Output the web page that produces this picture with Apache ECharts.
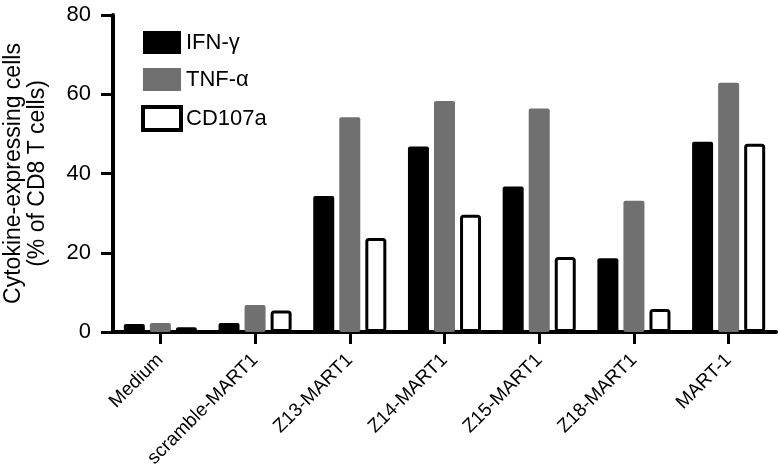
<!DOCTYPE html>
<html>
<head>
<meta charset="utf-8">
<script src="https://cdn.jsdelivr.net/npm/echarts@6/dist/echarts.min.js"></script>
<style>
  html, body { margin: 0; padding: 0; background: #fff; }
  #main { width: 780px; height: 471px; }
</style>
</head>
<body>
<div id="main"></div>
<script>
// categories and values
var categories = ['Medium', 'scramble-MART1', 'Z13-MART1', 'Z14-MART1', 'Z15-MART1', 'Z18-MART1', 'MART-1'];
var ifnGamma = [2.0, 2.3, 34.3, 46.8, 36.7, 18.6, 48.0];
var tnfAlpha = [2.3, 6.8, 54.2, 58.3, 56.4, 33.1, 62.9];
var cd107a   = [1.2, 5.4, 23.7, 29.6, 18.9, 5.8, 47.5];
var yTicks = [0, 20, 40, 60, 80];

var font = '"Liberation Sans", Arial, Helvetica, sans-serif';

var myChart = echarts.init(document.getElementById('main'));

var option = {
    animation: false,
    backgroundColor: '#fff',
    textStyle: { fontFamily: font, color: '#000' },
    // fixed plot box, no auto-shrinking for labels
    grid: { left: 113, right: 4, top: 15, bottom: 139, containLabel: false, outerBoundsMode: 'none' },
    legend: {
        orient: 'vertical',
        left: 136,
        top: 26,
        icon: 'rect',
        itemWidth: 38,
        itemHeight: 23,
        itemGap: 14,
        itemTextGap: 10,
        textStyle: { fontFamily: font, fontSize: 22, color: '#000' },
        data: [
            { name: 'IFN-γ' },
            { name: 'TNF-α' },
            { name: 'CD107a', itemStyle: { color: '#fff', borderColor: '#000', borderWidth: 4 } }
        ]
    },
    xAxis: {
        type: 'category',
        data: categories,
        axisLine: { lineStyle: { color: '#000', width: 4 } },
        axisTick: { show: true, alignWithLabel: true, length: 12, lineStyle: { color: '#000', width: 3 } },
        axisLabel: {
            rotate: 45,
            margin: 25,
            interval: 0,
            fontFamily: font,
            fontSize: 19,
            color: '#000'
        }
    },
    yAxis: {
        type: 'value',
        min: yTicks[0],
        max: yTicks[yTicks.length - 1],
        interval: 20,
        name: 'Cytokine-expressing cells\n(% of CD8 T cells)',
        nameLocation: 'middle',
        nameRotate: 90,
        nameGap: 63,
        nameTextStyle: { fontFamily: font, fontSize: 23, lineHeight: 24, color: '#000' },
        splitLine: { show: false },
        axisLine: { show: true, lineStyle: { color: '#000', width: 4 } },
        axisTick: { show: true, length: 12, lineStyle: { color: '#000', width: 3 } },
        axisLabel: { fontFamily: font, fontSize: 22, color: '#000', margin: 22 }
    },
    series: [
        {
            name: 'IFN-γ',
            type: 'bar',
            data: ifnGamma,
            barWidth: 21,
            barGap: '24%',
            itemStyle: { color: '#000', borderRadius: 2 }
        },
        {
            name: 'TNF-α',
            type: 'bar',
            data: tnfAlpha,
            barWidth: 21,
            barGap: '24%',
            itemStyle: { color: '#707070', borderRadius: 2 }
        },
        {
            name: 'CD107a',
            type: 'bar',
            data: cd107a,
            barWidth: 21,
            barGap: '24%',
            itemStyle: { color: '#fff', borderColor: '#000', borderWidth: 3, borderRadius: 2 }
        }
    ]
};

myChart.setOption(option);
</script>
</body>
</html>
